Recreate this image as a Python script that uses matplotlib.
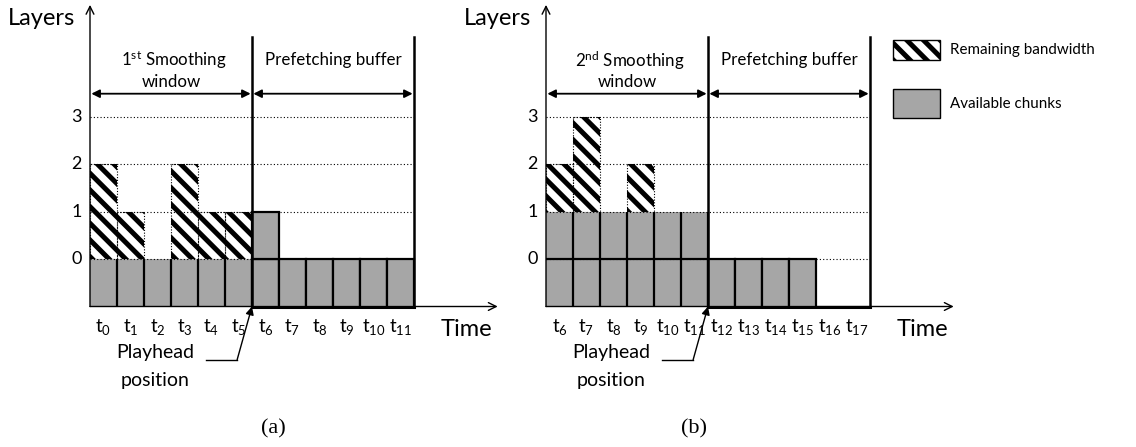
import numpy as np
import matplotlib
matplotlib.use("Agg")
import matplotlib.pyplot as plt
from matplotlib.patches import Rectangle

plt.rcParams['font.family'] = ['Lato', 'DejaVu Sans']
plt.rcParams['mathtext.fontset'] = 'custom'
plt.rcParams['mathtext.rm'] = 'Lato'
plt.rcParams['mathtext.it'] = 'Lato:italic'
plt.rcParams['hatch.linewidth'] = 3.6

# layer levels shown on the y axis
layer_ticks = [0, 1, 2, 3]

# panel (a): time slots t0..t11
slots_a = list(range(0, 12))
chunks_a = [1, 1, 1, 1, 1, 1, 2, 1, 1, 1, 1, 1]   # layers downloaded per slot
bandwidth_a = [2, 1, 0, 2, 1, 1]                   # top of remaining bandwidth (smoothing window)

# panel (b): time slots t6..t17
slots_b = list(range(6, 18))
chunks_b = [2, 2, 2, 2, 2, 2, 1, 1, 1, 1, 0, 0]
bandwidth_b = [2, 3, 1, 2, 1, 1]

W, H = 1136, 447
COL, ROW = 27.0, 47.5      # pixels per slot / per layer
BASE_Y = 306.5             # time axis, pixels from top
GRAY = '#a6a6a6'
HATCH = '\\\\'

fig = plt.figure(figsize=(W / 100, H / 100), dpi=100)


def panel_axes(x0):
    ax = fig.add_axes([0, 0, 1, 1], facecolor='none')
    ax.set_xlim(-x0 / COL, (W - x0) / COL)
    ax.set_ylim(-1 - (H - BASE_Y) / ROW, -1 + BASE_Y / ROW)
    ax.axis('off')
    return ax


def draw_panel(ax, slots, chunks, bandwidth, ordinal, caption, caption_x):
    n = len(slots)
    window = len(bandwidth)
    x = np.arange(n) + 0.5

    # dotted layer guides
    for lvl in layer_ticks:
        ax.plot([0, n], [lvl, lvl], color='black', lw=0.8, ls=(0, (1, 2)), zorder=3.5)
        ax.text(-0.3, lvl, str(lvl), ha='right', va='center', fontsize=13)

    # available chunks: smoothing window cells only have side edges
    for layer in range(max(chunks)):
        xs = [xi for xi, c in zip(x[:window], chunks[:window]) if c > layer]
        if xs:
            ax.bar(xs, 1, bottom=layer - 1, width=1, color=GRAY, lw=0, zorder=3)
            ax.vlines([xi + 0.5 for xi in xs], layer - 1, layer, color='black', lw=1.6, zorder=4)
            if layer > 0:
                ax.hlines([layer - 1] * len(xs), [xi - 0.5 for xi in xs],
                          [xi + 0.5 for xi in xs], color='black', lw=1.6, zorder=4)
        xs = [xi for xi, c in zip(x[window:], chunks[window:]) if c > layer]
        if xs:
            ax.bar(xs, 1, bottom=layer - 1, width=1, color=GRAY,
                   edgecolor='black', lw=1.6, zorder=4)

    # remaining bandwidth
    for i in range(window):
        base = chunks[i] - 1
        if bandwidth[i] > base:
            h = bandwidth[i] - base
            ax.bar(x[i], h, bottom=base, width=1, facecolor='white',
                   edgecolor='black', hatch=HATCH, lw=0, zorder=2)
            ax.bar(x[i], h, bottom=base, width=1, fill=False,
                   edgecolor='black', lw=0.8, ls=(0, (1, 1.5)), zorder=2.5)

    # axes arrows
    ax.annotate('', xy=(0, 5.35), xytext=(0, -1),
                arrowprops=dict(arrowstyle='->', lw=1, color='black',
                                mutation_scale=14, shrinkA=0, shrinkB=0))
    ax.annotate('', xy=(15.1, -1), xytext=(0, -1),
                arrowprops=dict(arrowstyle='->', lw=1, color='black',
                                mutation_scale=14, shrinkA=0, shrinkB=0))
    ax.text(-1.8, 5.06, 'Layers', ha='center', va='center', fontsize=17)
    ax.text(13.95, -1.48, 'Time', ha='center', va='center', fontsize=17)

    # window / buffer boundaries
    for xb in (window, n):
        ax.plot([xb, xb], [-1, 4.68], color='black', lw=1.8, zorder=5)
    ax.plot([window, n], [-1, -1], color='black', lw=2.2, zorder=5)

    for x_from, x_to in ((0, window), (window, n)):
        ax.annotate('', xy=(x_to - 0.05, 3.48), xytext=(x_from + 0.05, 3.48),
                    arrowprops=dict(arrowstyle='<|-|>', lw=1.3, color='black',
                                    mutation_scale=12, shrinkA=0, shrinkB=0))
    ax.text(window / 2 + 0.1, 4.18, ordinal + ' Smoothing', ha='center', va='center', fontsize=12.2)
    ax.text(window / 2, 3.72, 'window', ha='center', va='center', fontsize=12.2)
    ax.text((window + n) / 2, 4.18, 'Prefetching buffer', ha='center', va='center', fontsize=12.2)

    # slot labels
    for xi, s in zip(x, slots):
        ax.text(xi, -1.44, r'$\mathrm{t_{%d}}$' % s, ha='center', va='center', fontsize=13.5)

    # playhead
    ax.text(2.4, -1.96, 'Playhead', ha='center', va='center', fontsize=14)
    ax.text(2.4, -2.56, 'position', ha='center', va='center', fontsize=14)
    ax.plot([4.3, 5.45], [-2.12, -2.12], color='black', lw=1)
    ax.annotate('', xy=(window, -1), xytext=(5.45, -2.12),
                arrowprops=dict(arrowstyle='-|>', lw=1, color='black',
                                mutation_scale=12, shrinkA=0, shrinkB=0), zorder=6)

    ax.text(caption_x, -3.57, caption, ha='center', va='center',
            fontsize=16, family='Liberation Serif')


ax_a = panel_axes(90)
draw_panel(ax_a, slots_a, chunks_a, bandwidth_a, r'1$^{\mathrm{st}}$', '(a)', 6.8)

ax_b = panel_axes(546)
draw_panel(ax_b, slots_b, chunks_b, bandwidth_b, r'2$^{\mathrm{nd}}$', '(b)', 5.48)

# legend
ax_b.add_patch(Rectangle((12.85, 4.18), 1.75, 0.44, facecolor='white', edgecolor='black',
                         hatch=HATCH, lw=1, zorder=3))
ax_b.add_patch(Rectangle((12.85, 2.96), 1.75, 0.61, facecolor=GRAY, edgecolor='black',
                         lw=1, zorder=3))
ax_b.text(14.95, 4.4, 'Remaining bandwidth', ha='left', va='center', fontsize=10.9)
ax_b.text(14.95, 3.27, 'Available chunks', ha='left', va='center', fontsize=10.9)

fig.savefig('out.png', dpi=100)
